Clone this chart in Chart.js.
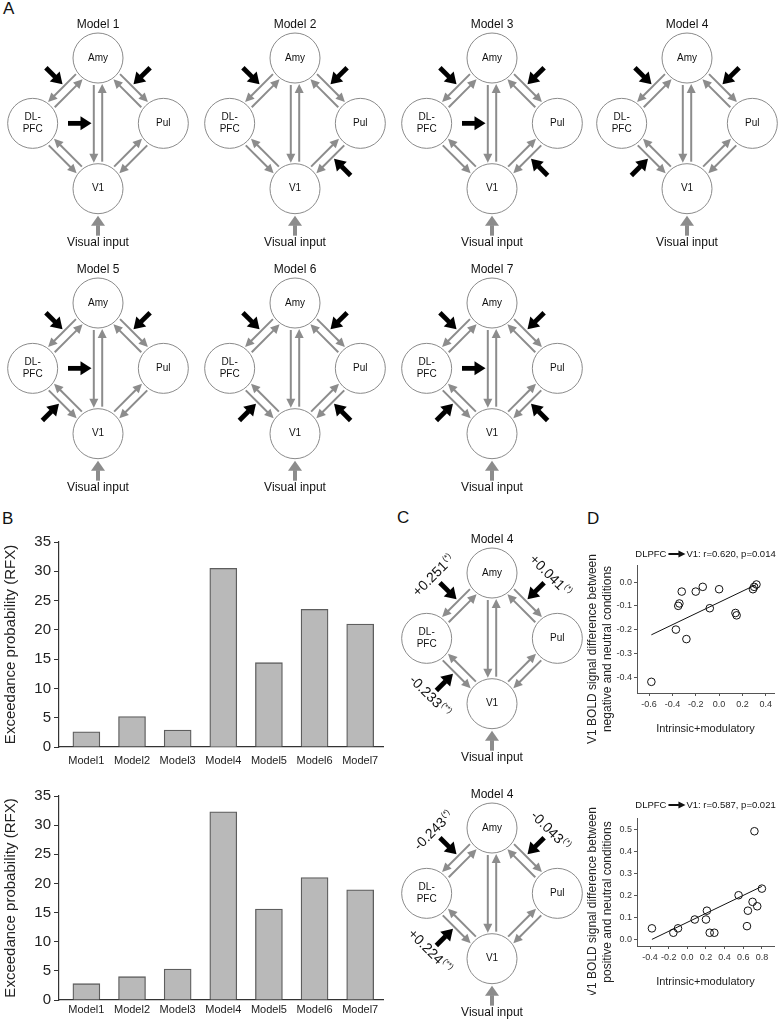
<!DOCTYPE html>
<html>
<head>
<meta charset="utf-8">
<script src="https://cdn.jsdelivr.net/npm/chart.js@4.4.0/dist/chart.umd.min.js"></script>
<style>
  body { margin: 0; background: #fff; }
  #fig { position: relative; width: 778px; height: 1019px; overflow: hidden; background: #fff; }
  #fig canvas { position: absolute; }
  .lbl { position: absolute; font: 17px 'Liberation Sans', Arial, sans-serif; line-height: 1; color: #111; }
</style>
</head>
<body>
<div id="fig">
  <div class="lbl" style="left:3px;top:0px">A</div>
  <div class="lbl" style="left:2px;top:510px">B</div>
  <div class="lbl" style="left:397px;top:509px">C</div>
  <div class="lbl" style="left:587px;top:510px">D</div>

  <canvas id="barNeg" width="390" height="245" style="left:0px;top:530px"></canvas>
  <canvas id="barPos" width="390" height="235" style="left:0px;top:784px"></canvas>

  <canvas id="m1" width="196" height="252" style="left:0px;top:0px"></canvas>
  <canvas id="m2" width="196" height="252" style="left:197px;top:0px"></canvas>
  <canvas id="m3" width="196" height="252" style="left:394px;top:0px"></canvas>
  <canvas id="m4" width="196" height="252" style="left:589px;top:0px"></canvas>
  <canvas id="m5" width="196" height="252" style="left:0px;top:245px"></canvas>
  <canvas id="m6" width="196" height="252" style="left:197px;top:245px"></canvas>
  <canvas id="m7" width="196" height="252" style="left:394px;top:245px"></canvas>

  <canvas id="c1" width="196" height="252" style="left:394px;top:515px"></canvas>
  <canvas id="c2" width="196" height="252" style="left:394px;top:770px"></canvas>

  <canvas id="scNeg" width="196" height="205" style="left:582px;top:540px"></canvas>
  <canvas id="scPos" width="196" height="205" style="left:582px;top:790px"></canvas>
</div>

<script>
// ---- data ----
const modelLabels = ['Model1', 'Model2', 'Model3', 'Model4', 'Model5', 'Model6', 'Model7'];
const modelPos = [1, 2, 3, 4, 5, 6, 7];
const exceedNeg = [2.6, 5.2, 2.9, 30.5, 14.4, 23.5, 21.0];
const exceedPos = [2.8, 4.0, 5.3, 32.3, 15.6, 21.0, 18.9];
const exceedTicks = [0, 5, 10, 15, 20, 25, 30, 35];

// network nodes (diagram units) : Amy, DLPFC, Pul, V1
const nodeX = [0, -1, 1, 0];
const nodeY = [1, 0, 0, -1];
const nodeText = [['Amy'], ['DL-', 'PFC'], ['Pul'], ['V1']];
// directed gray connections [from, to]
const links = [[0, 1], [1, 0], [0, 3], [3, 0], [0, 2], [2, 0], [1, 3], [3, 1], [2, 3], [3, 2]];

const modelTitles = ['Model 1', 'Model 2', 'Model 3', 'Model 4', 'Model 5', 'Model 6', 'Model 7'];
// modulated connections (black arrows) per model
const modulated = [
  [[0, 1], [0, 2], [0, 3]],
  [[0, 1], [0, 2], [2, 3]],
  [[0, 1], [0, 2], [0, 3], [2, 3]],
  [[0, 1], [0, 2], [1, 3]],
  [[0, 1], [0, 2], [0, 3], [1, 3]],
  [[0, 1], [0, 2], [1, 3], [2, 3]],
  [[0, 1], [0, 2], [0, 3], [1, 3], [2, 3]]
];

// panel C estimates
const cEdges = [[0, 1], [0, 2], [1, 3]];
const cNegValues = ['+0.251', '+0.041', '-0.233'];
const cNegSig = ['(*)', '(*)', '(**)'];
const cPosValues = ['-0.243', '-0.043', '+0.224'];
const cPosSig = ['(*)', '(*)', '(**)'];

// panel D scatter
const negX = [-0.58, -0.37, -0.34, -0.35, -0.32, -0.28, -0.20, -0.14, -0.08, 0.00, 0.14, 0.15, 0.29, 0.30, 0.32];
const negY = [-0.42, -0.20, -0.09, -0.10, -0.04, -0.24, -0.04, -0.02, -0.11, -0.03, -0.13, -0.14, -0.03, -0.02, -0.01];
const negFitX = [-0.58, 0.32];
const negFitY = [-0.222, -0.010];
const negXTicks = [-0.6, -0.4, -0.2, 0.0, 0.2, 0.4];
const negYTicks = [-0.4, -0.3, -0.2, -0.1, 0.0];
const negTitle = 'V1: r=0.620, p=0.014';

const posX = [-0.38, -0.15, -0.10, 0.08, 0.20, 0.21, 0.24, 0.29, 0.55, 0.64, 0.65, 0.70, 0.72, 0.75, 0.80];
const posY = [0.05, 0.03, 0.05, 0.09, 0.09, 0.13, 0.03, 0.03, 0.20, 0.06, 0.13, 0.17, 0.49, 0.15, 0.23];
const posFitX = [-0.38, 0.80];
const posFitY = [0.0, 0.24];
const posXTicks = [-0.4, -0.2, 0.0, 0.2, 0.4, 0.6, 0.8];
const posYTicks = [0.0, 0.1, 0.2, 0.3, 0.4, 0.5];
const posTitle = 'V1: r=0.587, p=0.021';

// ---- styling ----
const FONT = "'Liberation Sans', Arial, sans-serif";
const GRAY = '#8c8c8c';
const R = 25;      // node radius px
const OFF = 4.2;   // half gap between paired connections

function drawArrow(ctx, x0, y0, x1, y1, width, headLen, headHalf, color) {
  const L = Math.hypot(x1 - x0, y1 - y0), ux = (x1 - x0) / L, uy = (y1 - y0) / L;
  const bx = x1 - ux * headLen, by = y1 - uy * headLen;
  ctx.strokeStyle = color;
  ctx.lineWidth = width;
  ctx.lineCap = 'butt';
  ctx.beginPath();
  ctx.moveTo(x0, y0);
  ctx.lineTo(bx + ux * 0.5, by + uy * 0.5);
  ctx.stroke();
  ctx.fillStyle = color;
  ctx.beginPath();
  ctx.moveTo(x1, y1);
  ctx.lineTo(bx - uy * headHalf, by + ux * headHalf);
  ctx.lineTo(bx + uy * headHalf, by - ux * headHalf);
  ctx.closePath();
  ctx.fill();
}

// midpoint, outward normal, direction to upper node and text angle of a node pair
function edgeFrame(chart, a, b) {
  const X = chart.scales.x, Y = chart.scales.y;
  const ax = X.getPixelForValue(nodeX[a]), ay = Y.getPixelForValue(nodeY[a]);
  const bx = X.getPixelForValue(nodeX[b]), by = Y.getPixelForValue(nodeY[b]);
  const cx = X.getPixelForValue(0), cy = Y.getPixelForValue(0);
  const mx = (ax + bx) / 2, my = (ay + by) / 2;
  const L = Math.hypot(bx - ax, by - ay);
  const dx = (bx - ax) / L, dy = (by - ay) / L;
  let nx = -dy, ny = dx;
  const dot = nx * (mx - cx) + ny * (my - cy);
  if (dot < -1e-6 || (Math.abs(dot) <= 1e-6 && nx > 0)) { nx = -nx; ny = -ny; }
  const up = nodeY[a] > nodeY[b] ? -1 : 1;
  const ux = dx * up, uy = dy * up;
  const angle = dx < 0 ? Math.atan2(-dy, -dx) : Math.atan2(dy, dx);
  return { mx, my, nx, ny, ux, uy, angle, shift: 2.5 * Math.abs(ny) * Math.SQRT2 };
}

const diagramPlugin = {
  id: 'diagram',
  beforeDatasetsDraw(chart, args, opts) {
    const ctx = chart.ctx;
    const px = i => chart.scales.x.getPixelForValue(nodeX[i]);
    const py = i => chart.scales.y.getPixelForValue(nodeY[i]);
    ctx.save();
    links.forEach(([a, b]) => {
      const ax = px(a), ay = py(a), bx = px(b), by = py(b);
      const L = Math.hypot(bx - ax, by - ay), dx = (bx - ax) / L, dy = (by - ay) / L;
      const s = (nodeX[a] + nodeX[b]) / 2 > 0 ? -1 : 1;
      const nx = -dy * s, ny = dx * s;
      drawArrow(ctx,
        ax + dx * (R + 2) + nx * OFF, ay + dy * (R + 2) + ny * OFF,
        bx - dx * (R + 1) + nx * OFF, by - dy * (R + 1) + ny * OFF,
        2, 9, 4.5, GRAY);
    });
    // visual input
    const vx = px(3), vy = py(3);
    drawArrow(ctx, vx, vy + R + 22, vx, vy + R + 2, 4, 10, 7, GRAY);
    // modulatory inputs
    (opts.mods || []).forEach(([a, b]) => {
      const g = edgeFrame(chart, a, b);
      const sx = g.ux * g.shift, sy = g.uy * g.shift;
      drawArrow(ctx,
        g.mx + g.nx * 30 + sx, g.my + g.ny * 30 + sy,
        g.mx + g.nx * 6.5 + sx, g.my + g.ny * 6.5 + sy,
        4.8, 11, 7, '#000');
    });
    ctx.restore();
  },
  afterDatasetsDraw(chart, args, opts) {
    const ctx = chart.ctx;
    const px = i => chart.scales.x.getPixelForValue(nodeX[i]);
    const py = i => chart.scales.y.getPixelForValue(nodeY[i]);
    ctx.save();
    ctx.fillStyle = '#111';
    ctx.textAlign = 'center';
    ctx.textBaseline = 'middle';
    ctx.font = `12px ${FONT}`;
    ctx.fillText(opts.title, px(0), py(0) - 33);
    ctx.fillText('Visual input', px(3), py(3) + 53.5);
    ctx.font = `10px ${FONT}`;
    nodeText.forEach((lines, i) => {
      lines.forEach((t, k) => ctx.fillText(t, px(i), py(i) + (k - (lines.length - 1) / 2) * 12));
    });
    // coupling estimates (panel C)
    (opts.labels || []).forEach(lab => {
      const g = edgeFrame(chart, lab.edge[0], lab.edge[1]);
      const cx = g.mx + g.nx * 39 + g.ux * 3, cy = g.my + g.ny * 39 + g.uy * 3;
      ctx.save();
      ctx.translate(cx, cy);
      ctx.rotate(g.angle);
      ctx.textAlign = 'left';
      ctx.font = `14px ${FONT}`;
      const w1 = ctx.measureText(lab.main).width;
      ctx.font = `8px ${FONT}`;
      const w2 = ctx.measureText(lab.sig).width;
      const x0 = -(w1 + w2 + 1) / 2;
      ctx.font = `14px ${FONT}`;
      ctx.fillText(lab.main, x0, 0);
      ctx.font = `8px ${FONT}`;
      ctx.fillText(lab.sig, x0 + w1 + 1, -4);
      ctx.restore();
    });
    ctx.restore();
  }
};

function diagram(id, title, mods, labels) {
  return new Chart(document.getElementById(id), {
    type: 'scatter',
    data: {
      datasets: [{
        data: nodeX.map((x, i) => ({ x, y: nodeY[i] })),
        pointRadius: R,
        pointHoverRadius: R,
        backgroundColor: '#fff',
        borderColor: '#8a8a8a',
        borderWidth: 1,
        clip: false
      }]
    },
    plugins: [diagramPlugin],
    options: {
      responsive: false,
      animation: false,
      events: [],
      layout: { padding: 0, autoPadding: false },
      plugins: {
        legend: { display: false },
        tooltip: { enabled: false },
        diagram: { title, mods, labels }
      },
      scales: {
        x: { display: false, min: -1.5, max: 1.5 },
        y: { display: false, min: -1.969, max: 1.888 }
      }
    }
  });
}

modelTitles.forEach((t, i) => diagram('m' + (i + 1), t, modulated[i], []));
diagram('c1', 'Model 4', modulated[3], cEdges.map((e, i) => ({ edge: e, main: cNegValues[i], sig: cNegSig[i] })));
diagram('c2', 'Model 4', modulated[3], cEdges.map((e, i) => ({ edge: e, main: cPosValues[i], sig: cPosSig[i] })));

const fixTicks = vals => s => { s.ticks = vals.map(v => ({ value: v })); };

// ---- panel B ----
function barChart(id, values, axisH, tickPad) {
  return new Chart(document.getElementById(id), {
    type: 'bar',
    data: {
      datasets: [{
        data: values.map((v, i) => ({ x: modelPos[i], y: v })),
        backgroundColor: '#b9b9b9',
        borderColor: '#5e5e5e',
        borderWidth: 1.3,
        barThickness: 27,
        borderSkipped: 'bottom'
      }]
    },
    options: {
      responsive: false,
      animation: false,
      events: [],
      layout: { padding: { top: 10, right: 7, left: 0, bottom: 0 }, autoPadding: false },
      plugins: { legend: { display: false }, tooltip: { enabled: false } },
      scales: {
        x: {
          type: 'linear', min: 0.4, max: 7.5, bounds: 'data', offset: false,
          grid: { display: false, drawTicks: false, offset: false },
          border: { display: true, color: '#333', width: 1.2 },
          afterBuildTicks: fixTicks(modelPos),
          ticks: {
            autoSkip: false, maxRotation: 0,
            padding: tickPad, color: '#222', font: { family: FONT, size: 11 },
            callback: v => modelLabels[modelPos.indexOf(v)] || ''
          },
          afterFit: s => { s.height = axisH; }
        },
        y: {
          min: 0, max: 35, bounds: 'data',
          afterBuildTicks: fixTicks(exceedTicks),
          grid: { display: true, drawOnChartArea: false, drawTicks: true, tickLength: 5, color: '#333' },
          border: { display: true, color: '#333', width: 1.2 },
          ticks: { padding: 3, color: '#222', font: { family: FONT, size: 15 } },
          title: {
            display: true, text: 'Exceedance probability (RFX)', color: '#222',
            font: { family: FONT, size: 15 }, padding: { top: 2, bottom: 2 }
          },
          afterFit: s => { s.width = 59; }
        }
      }
    }
  });
}
barChart('barNeg', exceedNeg, 28, 7);
barChart('barPos', exceedPos, 19, 3);

// ---- panel D ----
const corrTitle = {
  id: 'corrTitle',
  afterDraw(chart, args, opts) {
    const ctx = chart.ctx, area = chart.chartArea;
    const midX = (area.left + area.right) / 2;
    ctx.save();
    ctx.fillStyle = '#111';
    ctx.textBaseline = 'middle';
    // heading with arrow
    ctx.font = `9.5px ${FONT}`;
    ctx.textAlign = 'left';
    const left = 'DLPFC', arrowW = 17;
    const w1 = ctx.measureText(left).width, w2 = ctx.measureText(opts.text).width;
    const total = w1 + 2 + arrowW + 1 + w2;
    let x = midX - total / 2;
    ctx.fillText(left, x, opts.y);
    x += w1 + 2;
    drawArrow(ctx, x, opts.y, x + arrowW, opts.y, 2, 7, 3.5, '#111');
    x += arrowW + 1;
    ctx.fillText(opts.text, x, opts.y);
    // axis titles
    ctx.textAlign = 'center';
    ctx.fillStyle = '#222';
    ctx.font = `11px ${FONT}`;
    ctx.fillText('Intrinsic+modulatory', midX, area.bottom + 36);
    ctx.font = `12px ${FONT}`;
    const cy = (area.top + area.bottom) / 2 + opts.yTitleShift;
    opts.yTitle.forEach((line, k) => {
      ctx.save();
      ctx.translate(11 + k * 15, cy);
      ctx.rotate(-Math.PI / 2);
      ctx.fillText(line, 0, 0);
      ctx.restore();
    });
    ctx.restore();
  }
};

const fmt1 = v => (Math.abs(v) < 1e-9 ? 0 : v).toFixed(1);

function scatterChart(id, xs, ys, fitX, fitY, c) {
  return new Chart(document.getElementById(id), {
    type: 'scatter',
    data: {
      datasets: [
        {
          data: xs.map((x, i) => ({ x, y: ys[i] })),
          pointRadius: 3.8,
          borderColor: '#111',
          borderWidth: 1,
          backgroundColor: 'rgba(255,255,255,0)',
          clip: false
        },
        {
          type: 'line',
          data: fitX.map((x, i) => ({ x, y: fitY[i] })),
          borderColor: '#111',
          borderWidth: 1,
          pointRadius: 0,
          fill: false
        }
      ]
    },
    plugins: [corrTitle],
    options: {
      responsive: false,
      animation: false,
      events: [],
      layout: { padding: { top: c.padTop, right: 4, left: 0, bottom: 0 }, autoPadding: false },
      plugins: {
        legend: { display: false },
        tooltip: { enabled: false },
        corrTitle: { text: c.title, y: c.titleY, yTitle: c.yTitle, yTitleShift: 20 }
      },
      scales: {
        x: {
          type: 'linear', min: c.xMin, max: c.xMax, bounds: 'data',
          afterBuildTicks: fixTicks(c.xTicks),
          grid: { display: true, drawOnChartArea: false, drawTicks: true, tickLength: 3, color: '#555' },
          border: { display: true, color: '#555' },
          ticks: { padding: 3, color: '#333', font: { family: FONT, size: 9 }, callback: fmt1, autoSkip: false, maxRotation: 0 },
          afterFit: s => { s.height = c.xAxisH; }
        },
        y: {
          min: c.yMin, max: c.yMax, bounds: 'data',
          afterBuildTicks: fixTicks(c.yTicks),
          grid: { display: true, drawOnChartArea: false, drawTicks: true, tickLength: 3, color: '#555' },
          border: { display: true, color: '#555' },
          ticks: { padding: 2, color: '#333', font: { family: FONT, size: 9 }, callback: fmt1, autoSkip: false },
          afterFit: s => { s.width = 55; }
        }
      }
    }
  });
}

scatterChart('scNeg', negX, negY, negFitX, negFitY, {
  title: negTitle, titleY: 14, padTop: 25, xAxisH: 52,
  xMin: -0.703, xMax: 0.47, yMin: -0.467, yMax: 0.072,
  xTicks: negXTicks, yTicks: negYTicks,
  yTitle: ['V1 BOLD signal difference between', 'negative and neutral conditions']
});
scatterChart('scPos', posX, posY, posFitX, posFitY, {
  title: posTitle, titleY: 15, padTop: 28, xAxisH: 49,
  xMin: -0.54, xMax: 0.93, yMin: -0.03, yMax: 0.55,
  xTicks: posXTicks, yTicks: posYTicks,
  yTitle: ['V1 BOLD signal difference between', 'positive and neutral conditions']
});
</script>
</body>
</html>
